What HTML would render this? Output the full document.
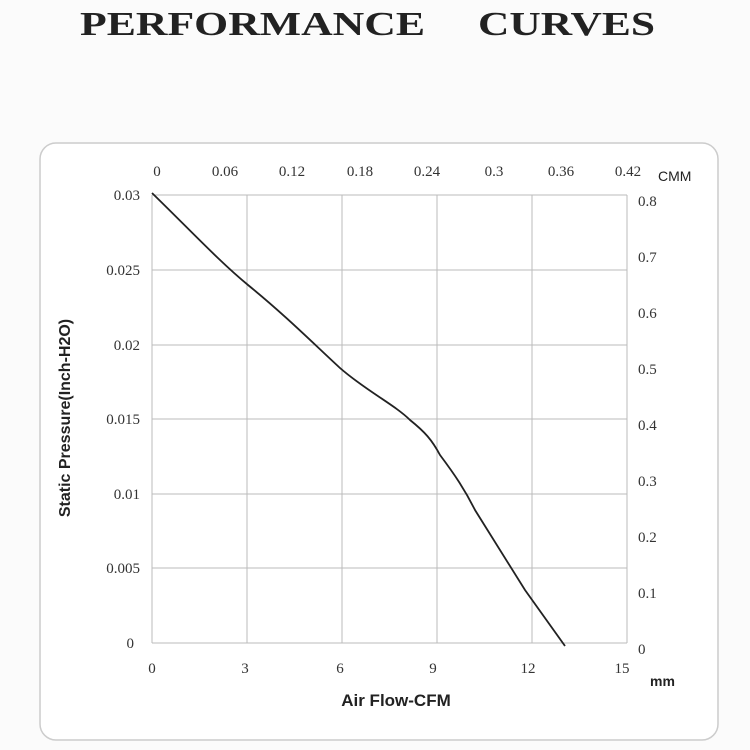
<!DOCTYPE html>
<html><head><style>
body{margin:0;background:#fff;}
svg{display:block}
.t{font-family:"Liberation Serif",serif;font-size:15px;fill:#333}
.s{font-family:"Liberation Sans",sans-serif;font-weight:bold;fill:#222}
</style></head><body>
<svg width="750" height="750" viewBox="0 0 750 750">
<rect width="750" height="750" fill="#fbfbfb"/>
<g font-family="Liberation Serif,serif" font-weight="bold" font-size="34" fill="#222">
<text x="80" y="35" textLength="345" lengthAdjust="spacingAndGlyphs">PERFORMANCE</text>
<text x="478" y="35" textLength="177" lengthAdjust="spacingAndGlyphs">CURVES</text>
</g>
<rect x="40" y="143" width="678" height="597" rx="16" fill="#fff" stroke="#ccc" stroke-width="1.5"/>
<g stroke="#bbb" stroke-width="1">
<line x1="152" y1="195" x2="152" y2="643"/><line x1="247" y1="195" x2="247" y2="643"/><line x1="342" y1="195" x2="342" y2="643"/><line x1="437" y1="195" x2="437" y2="643"/><line x1="532" y1="195" x2="532" y2="643"/><line x1="627" y1="195" x2="627" y2="643"/>
<line x1="152" y1="195" x2="627" y2="195"/><line x1="152" y1="270" x2="627" y2="270"/><line x1="152" y1="345" x2="627" y2="345"/><line x1="152" y1="419" x2="627" y2="419"/><line x1="152" y1="494" x2="627" y2="494"/><line x1="152" y1="568" x2="627" y2="568"/><line x1="152" y1="643" x2="627" y2="643"/>
</g>
<g class="t" text-anchor="end">
<text x="140" y="200">0.03</text><text x="140" y="275">0.025</text><text x="140" y="350">0.02</text><text x="140" y="424">0.015</text><text x="140" y="499">0.01</text><text x="140" y="573">0.005</text><text x="134" y="648">0</text>
</g>
<g class="t">
<text x="638" y="206">0.8</text><text x="638" y="262">0.7</text><text x="638" y="318">0.6</text><text x="638" y="374">0.5</text><text x="638" y="430">0.4</text><text x="638" y="486">0.3</text><text x="638" y="542">0.2</text><text x="638" y="598">0.1</text><text x="638" y="654">0</text>
</g>
<g class="t" text-anchor="middle">
<text x="157" y="176">0</text><text x="225" y="176">0.06</text><text x="292" y="176">0.12</text><text x="360" y="176">0.18</text><text x="427" y="176">0.24</text><text x="494" y="176">0.3</text><text x="561" y="176">0.36</text><text x="628" y="176">0.42</text>
<text x="152" y="673">0</text><text x="245" y="673">3</text><text x="340" y="673">6</text><text x="433" y="673">9</text><text x="528" y="673">12</text><text x="622" y="673">15</text>
</g>
<text x="658" y="181" font-family="Liberation Sans,sans-serif" font-size="14" fill="#222">CMM</text>
<text x="650" y="686" class="s" font-size="14">mm</text>
<text x="396" y="706" class="s" font-size="17" text-anchor="middle">Air Flow-CFM</text>
<text transform="translate(70,418) rotate(-90)" class="s" font-size="16" text-anchor="middle">Static Pressure(Inch-H2O)</text>
<path d="M152,193 C190,230 220,262 248,285 C285,315 315,345 340,368 C365,390 395,405 410,420 C425,432 432,440 440,455 C455,475 465,490 475,510 L525,590 L565,646" fill="none" stroke="#222" stroke-width="1.8"/>
</svg>
</body></html>
